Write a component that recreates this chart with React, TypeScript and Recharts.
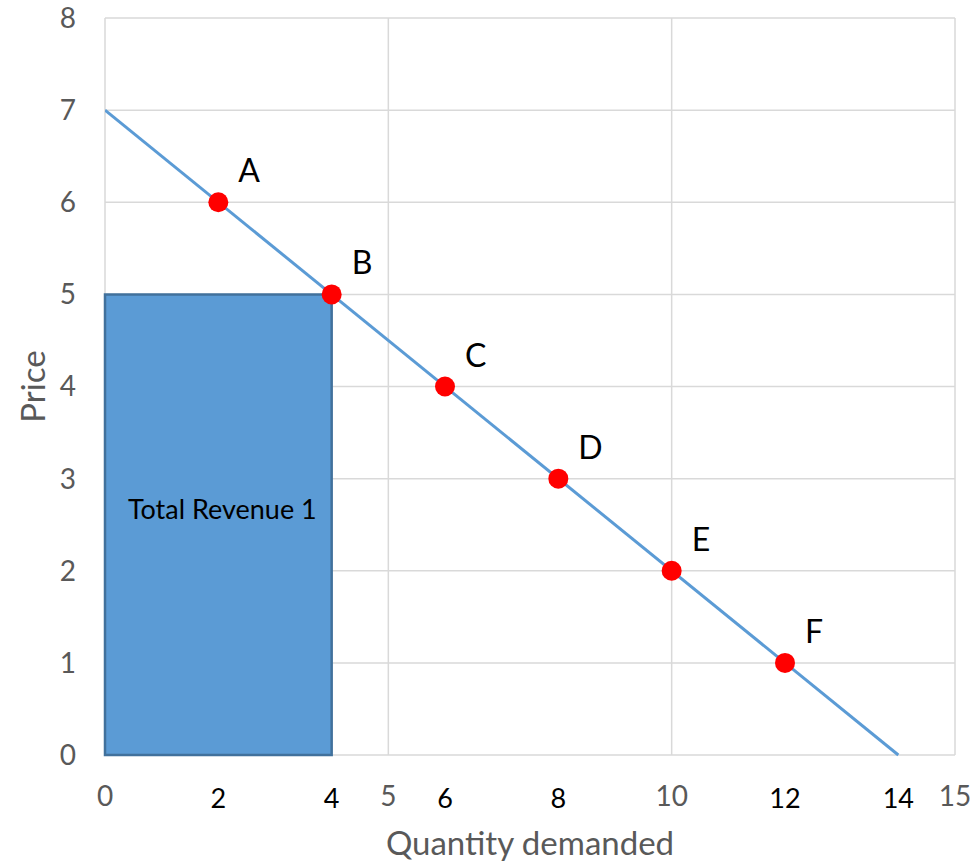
import {
  ComposedChart,
  Line,
  Scatter,
  XAxis,
  YAxis,
  CartesianGrid,
  ReferenceArea,
} from 'recharts'

// demand schedule points
const quantities = [2, 4, 6, 8, 10, 12]
const prices = [6, 5, 4, 3, 2, 1]
const pointNames = ['A', 'B', 'C', 'D', 'E', 'F']

// demand line end points
const demandQ = [0, 14]
const demandP = [7, 0]

// revenue box at point B
const revenueQ = 4
const revenueP = 5

const xTicks = [0, 2, 4, 5, 6, 8, 10, 12, 14, 15]
const xGrid = [0, 5, 10, 15]
const yTicks = [0, 1, 2, 3, 4, 5, 6, 7, 8]

const points = quantities.map((q, i) => ({ q, p: prices[i], name: pointNames[i] }))
const demand = demandQ.map((q, i) => ({ q, p: demandP[i] }))

const FONT = 'Lato, "Open Sans", sans-serif'
const GRID = '#d9d9d9'
const GRAY = '#595959'

// gridline values in gray, the in-between quantities in black
const XTick = (props: any) => {
  const { x, y, payload } = props
  const v = payload.value as number
  const major = xGrid.includes(v)
  return (
    <text x={x} y={y + (major ? 0 : 3)} dy="0.71em" textAnchor="middle"
      fill={major ? GRAY : '#000'} fontSize={major ? 28 : 27} fontFamily={FONT}>
      {v}
    </text>
  )
}

const PointShape = (props: any) => {
  const { cx, cy, payload } = props
  return (
    <g>
      <circle cx={cx} cy={cy} r={10} fill="#ff0000" />
      <text x={cx + 20} y={cy - 20} fill="#000" fontSize={32} fontFamily={FONT}>{payload.name}</text>
    </g>
  )
}

export default function App() {
  return (
    <div style={{ position: 'fixed', top: 0, left: 0, width: 975, height: 862, background: '#fff' }}>
      <ComposedChart width={975} height={862} margin={{ top: 18, right: 20, bottom: 0, left: 0 }}>
        <CartesianGrid stroke={GRID} strokeWidth={1.5} verticalValues={xGrid} horizontalValues={yTicks} />
        <XAxis type="number" dataKey="q" domain={[0, 15]} ticks={xTicks} interval={0}
          allowDataOverflow axisLine={false} tickLine={false} tickSize={0} tickMargin={31}
          height={107} tick={<XTick />}
          label={{ value: 'Quantity demanded', position: 'insideBottom', offset: 7, fill: GRAY, fontSize: 33, fontFamily: FONT }} />
        <YAxis type="number" dataKey="p" domain={[0, 8]} ticks={yTicks} interval={0}
          axisLine={false} tickLine={false} tickSize={0} tickMargin={29} width={105}
          tick={{ fill: GRAY, fontSize: 28, fontFamily: FONT }}
          label={{ value: 'Price', angle: -90, position: 'center', dx: -19, fill: GRAY, fontSize: 33, fontFamily: FONT }} />
        <ReferenceArea x1={0} x2={revenueQ} y1={0} y2={revenueP} fill="#5b9bd5" fillOpacity={1}
          stroke="#41719c" strokeWidth={2.5}
          label={{ value: 'Total Revenue 1', position: 'center', dx: 4, dy: -15, fill: '#000', fontSize: 27, fontFamily: FONT }} />
        <Line data={demand} dataKey="p" stroke="#5b9bd5" strokeWidth={3} dot={false}
          isAnimationActive={false} />
        <Scatter data={points} dataKey="p" shape={<PointShape />} isAnimationActive={false} />
      </ComposedChart>
    </div>
  )
}
